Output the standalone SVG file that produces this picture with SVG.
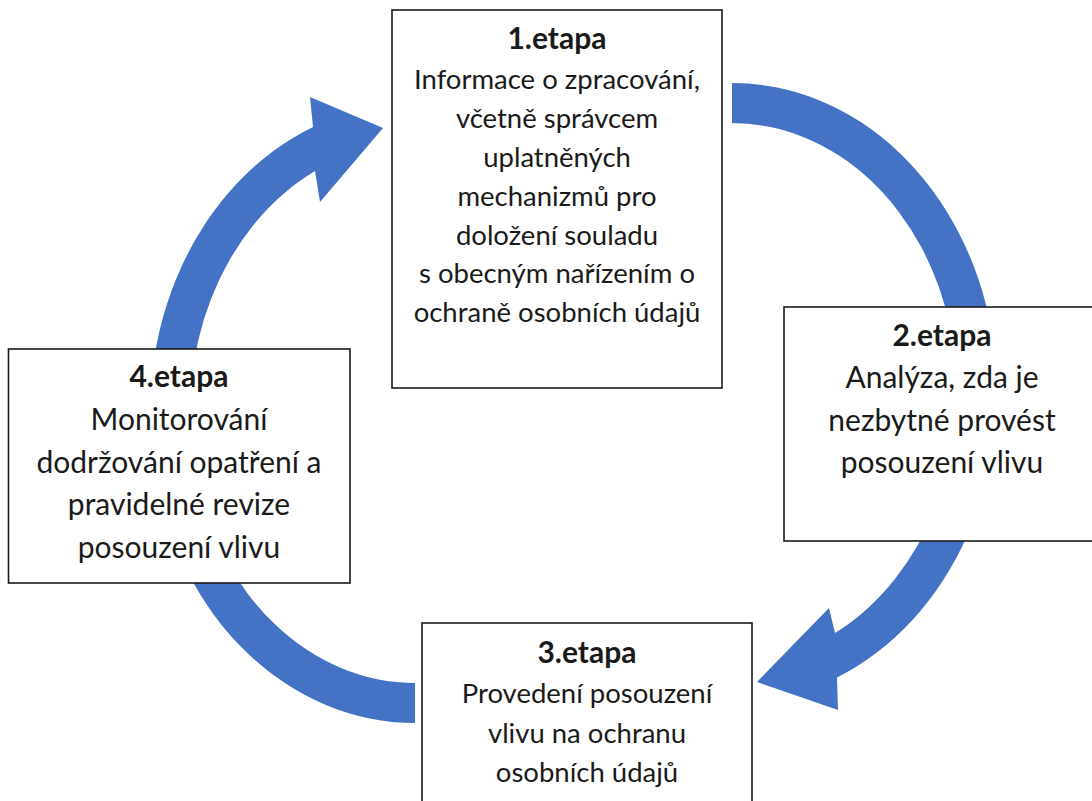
<svg xmlns="http://www.w3.org/2000/svg" width="1092" height="801" viewBox="0 0 1092 801">
<style>
.box{fill:#fff;stroke:#1a1a1a;stroke-width:1.6}
.arr{fill:#4472C4}
text{font-family:Lato,"Liberation Sans",sans-serif;fill:#1a1a1a;text-anchor:middle}
.t1{font-size:27.5px}
.t2{font-size:30px}
.b{font-weight:bold;font-size:30px}
</style>
<rect width="1092" height="801" fill="#fff"/>
<g id="connectors">
<path class="arr" d="M 732 83 A 265 310 0 0 1 837 677.6 L 838 710 L 757 682 L 829 608 L 835 633 A 225 270 0 0 0 732 123 Z"/>
<path class="arr" d="M 415 723 A 265 310 0 0 1 313 126.9 L 310 97 L 383 128 L 320 202 L 315 171.1 A 225 270 0 0 0 415 683 Z"/>
</g>
<g id="node1">
<rect class="box" x="392" y="10" width="330" height="378"/>
<text class="b" x="557" y="49">1.etapa</text>
<text class="t1" x="557" y="89.3">Informace o zpracování,</text>
<text class="t1" x="557" y="128.1">včetně správcem</text>
<text class="t1" x="557" y="166.9">uplatněných</text>
<text class="t1" x="557" y="205.7">mechanizmů pro</text>
<text class="t1" x="557" y="244.5">doložení souladu</text>
<text class="t1" x="557" y="283.3">s obecným nařízením o</text>
<text class="t1" x="557" y="322.1">ochraně osobních údajů</text>
</g>
<g id="node2">
<rect class="box" x="784" y="307" width="330" height="234"/>
<text class="b" x="942" y="345.5">2.etapa</text>
<text class="t2" x="942" y="388">Analýza, zda je</text>
<text class="t2" x="942" y="430.5">nezbytné provést</text>
<text class="t2" x="942" y="473">posouzení vlivu</text>
</g>
<g id="node3">
<rect class="box" x="422" y="623" width="330" height="200"/>
<text class="b" x="587" y="663">3.etapa</text>
<text class="t1" x="587" y="703">Provedení posouzení</text>
<text class="t1" x="587" y="742.5">vlivu na ochranu</text>
<text class="t1" x="587" y="782">osobních údajů</text>
</g>
<g id="node4">
<rect class="box" x="8.5" y="349" width="341.5" height="234"/>
<text class="b" x="179" y="387">4.etapa</text>
<text class="t2" x="179" y="430">Monitorování</text>
<text class="t2" x="179" y="472.7">dodržování opatření a</text>
<text class="t2" x="179" y="515.3">pravidelné revize</text>
<text class="t2" x="179" y="558">posouzení vlivu</text>
</g>
</svg>
